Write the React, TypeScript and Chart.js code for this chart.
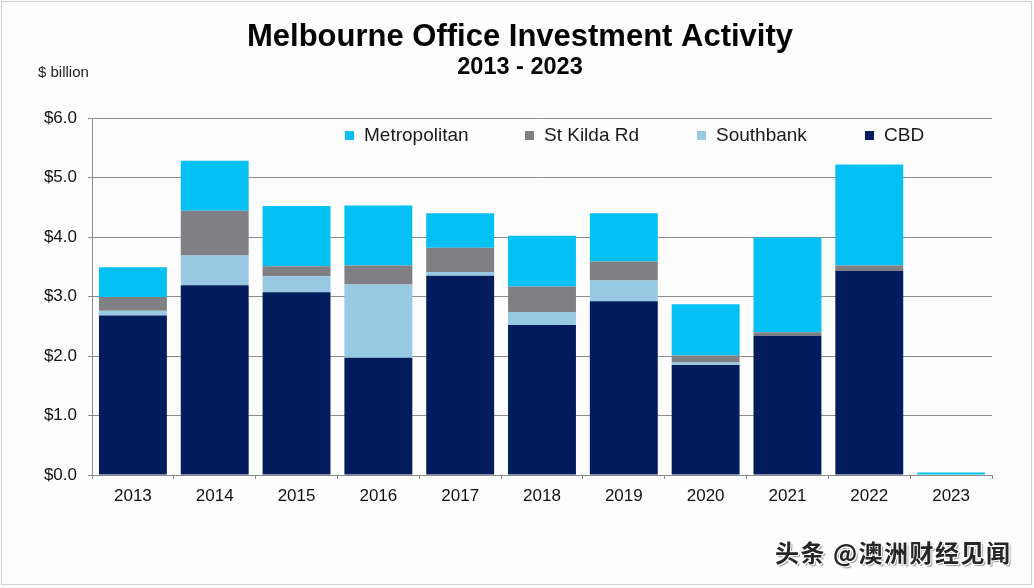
import React, { useEffect, useRef } from "react";
import { Chart, registerables } from "chart.js";

Chart.register(...registerables);

const years = ["2013", "2014", "2015", "2016", "2017", "2018", "2019", "2020", "2021", "2022", "2023"];
const cbd = [2.68, 3.19, 3.07, 1.97, 3.35, 2.52, 2.92, 1.85, 2.34, 3.43, 0.0];
const southbank = [0.08, 0.5, 0.27, 1.23, 0.06, 0.22, 0.35, 0.04, 0.0, 0.0, 0.0];
const stKilda = [0.23, 0.75, 0.17, 0.32, 0.41, 0.43, 0.32, 0.12, 0.06, 0.09, 0.0];
const metropolitan = [0.5, 0.84, 1.01, 1.01, 0.58, 0.85, 0.81, 0.86, 1.59, 1.7, 0.04];
const yTicks = [0, 1, 2, 3, 4, 5, 6];

const seriesNames = ["CBD", "Southbank", "St Kilda Rd", "Metropolitan"];
const seriesColors = ["#021c5e", "#97c9e3", "#7f7f84", "#05c0f2"];
const legendOrder = [3, 2, 1, 0];

const FONT = "'Liberation Sans', Arial, sans-serif";

const overlayPlugin = {
  id: "overlay",
  afterDraw(chart: any) {
    const ctx = chart.ctx;
    ctx.save();
    ctx.fillStyle = "#050505";
    ctx.textAlign = "center";
    ctx.textBaseline = "middle";
    ctx.font = `bold 31px ${FONT}`;
    ctx.fillText("Melbourne Office Investment Activity", 520, 37);
    ctx.font = `bold 23.5px ${FONT}`;
    ctx.fillText("2013 - 2023", 520, 68);
    ctx.textAlign = "left";
    ctx.font = `15px ${FONT}`;
    ctx.fillStyle = "#222";
    ctx.fillText("$ billion", 38, 73);

    const legendX = [345, 525, 697, 865];
    ctx.font = `19px ${FONT}`;
    legendOrder.forEach((si, i) => {
      const x = legendX[i];
      ctx.fillStyle = seriesColors[si];
      ctx.fillRect(x, 131, 9, 9);
      ctx.fillStyle = "#1a1a1a";
      ctx.fillText(seriesNames[si], x + 19, 136);
    });
    ctx.restore();
  },
};

export default function App() {
  const ref = useRef<HTMLCanvasElement>(null);
  useEffect(() => {
    const data = [cbd, southbank, stKilda, metropolitan];
    const chart = new Chart(ref.current!, {
      type: "bar",
      data: {
        labels: years,
        datasets: data.map((d, i) => ({
          label: seriesNames[i],
          data: d,
          backgroundColor: seriesColors[i],
          borderWidth: 0,
          barPercentage: 0.83,
          categoryPercentage: 1,
        })),
      },
      options: {
        responsive: false,
        animation: false,
        layout: { padding: { top: 118, right: 42, bottom: 0, left: 0 } },
        plugins: {
          legend: { display: false },
          title: { display: false },
          tooltip: { enabled: false },
        },
        scales: {
          x: {
            stacked: true,
            grid: {
              drawOnChartArea: false,
              drawTicks: true,
              tickLength: 4,
              color: "#8a8a8a",
              offset: true,
            },
            border: { color: "#8a8a8a", width: 1 },
            ticks: {
              color: "#111",
              font: { size: 17, family: FONT },
              padding: 7,
              maxRotation: 0,
            },
            afterFit: (scale: any) => {
              scale.height = 113;
            },
          },
          y: {
            stacked: true,
            min: 0,
            max: 6,
            afterBuildTicks: (scale: any) => {
              scale.ticks = yTicks.map((v) => ({ value: v }));
            },
            grid: {
              color: "#8c8c8c",
              tickLength: 4,
              drawTicks: true,
            },
            border: { color: "#8a8a8a", width: 1 },
            ticks: {
              color: "#111",
              font: { size: 17, family: FONT },
              padding: 11,
              callback: (v: any) => "$" + Number(v).toFixed(1),
            },
            afterFit: (scale: any) => {
              scale.width = 92;
            },
          },
        },
      },
      plugins: [overlayPlugin],
    });
    return () => chart.destroy();
  }, []);

  return (
    <div style={{ position: "fixed", left: 0, top: 0, width: 1034, height: 588, background: "#fdfdfd", overflow: "hidden" }}>
      <canvas ref={ref} width={1034} height={588} style={{ position: "absolute", left: 0, top: 0, width: 1034, height: 588 }} />
      <div style={{ position: "absolute", left: 1, top: 1, width: 1029, height: 582, border: "1px solid #cfcfcf", pointerEvents: "none" }} />
      <div
        style={{
          position: "absolute",
          left: 775,
          top: 537,
          fontFamily: "'Noto Sans CJK SC', sans-serif",
          fontSize: 24,
          fontWeight: 700,
          letterSpacing: 1.5,
          color: "#262626",
          whiteSpace: "nowrap",
          textShadow: "1px 1px 0 #fff, -1px -1px 0 #fff, 1px -1px 0 #fff, -1px 1px 0 #fff, 2px 2px 1px #999",
          lineHeight: "30px",
        }}
      >
        头条 @澳洲财经见闻
      </div>
    </div>
  );
}
